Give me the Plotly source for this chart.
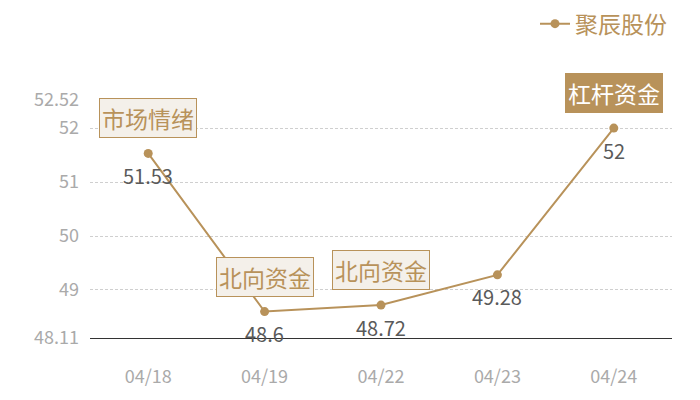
import plotly.graph_objects as go

DATES = ["04/18", "04/19", "04/22", "04/23", "04/24"]
PRICES = [51.53, 48.6, 48.72, 49.28, 52]
Y_TICKS = [48.11, 49, 50, 51, 52, 52.52]
NOTE_DATES = ["04/18", "04/19", "04/22", "04/24"]
NOTE_TEXT = ["市场情绪", "北向资金", "北向资金", "杠杆资金"]
NOTE_PRICES = [51.53, 48.6, 48.72, 52]

GOLD = "#b8925a"
CJK = "Noto Sans CJK SC, Open Sans, sans-serif"

fig = go.Figure()
fig.add_trace(
    go.Scatter(
        x=DATES,
        y=PRICES,
        name="聚辰股份",
        mode="lines+markers",
        line=dict(color=GOLD, width=2),
        marker=dict(color=GOLD, size=9),
    )
)

# value labels under each point
for d, v in zip(DATES, PRICES):
    fig.add_annotation(
        x=d, y=v, text=f"{v:g}", showarrow=False, yshift=-22,
        font=dict(size=20, color="#5a5a5a", family=CJK),
    )

# callout boxes above the points
for i, (d, t, v) in enumerate(zip(NOTE_DATES, NOTE_TEXT, NOTE_PRICES)):
    filled = i == len(NOTE_TEXT) - 1
    fig.add_annotation(
        x=d, y=v, text=t, showarrow=False, yshift=35,
        font=dict(size=23, color="white" if filled else GOLD, family=CJK),
        bgcolor=GOLD if filled else "#f4f0ea",
        bordercolor=GOLD, borderwidth=1, borderpad=2,
    )

# page body adds an 8px offset, so the figure is sized 692x392
fig.update_layout(
    width=692, height=392,
    margin=dict(l=82, r=28, t=92, b=62, autoexpand=False),
    plot_bgcolor="white", paper_bgcolor="white",
    font=dict(family=CJK),
    showlegend=True,
    legend=dict(
        orientation="h", x=1.0, xanchor="right",
        yref="container", y=0.96, yanchor="middle",
        font=dict(size=23, color=GOLD),
    ),
    xaxis=dict(
        type="category", range=[-0.5, 4.5], showgrid=False, showline=True,
        linecolor="#333", linewidth=1, ticks="", ticklabelstandoff=22,
        tickfont=dict(size=18, color="#aaa"),
    ),
    yaxis=dict(
        range=[48.11, 52.52], tickvals=Y_TICKS, ticktext=[f"{v:g}" for v in Y_TICKS],
        showgrid=True, gridcolor="#cfcfcf", griddash="3px,2px", gridwidth=1,
        zeroline=False, tickfont=dict(size=18, color="#aaa"), ticks="",
        ticklabelstandoff=10,
    ),
)

fig.write_html("out.html")
